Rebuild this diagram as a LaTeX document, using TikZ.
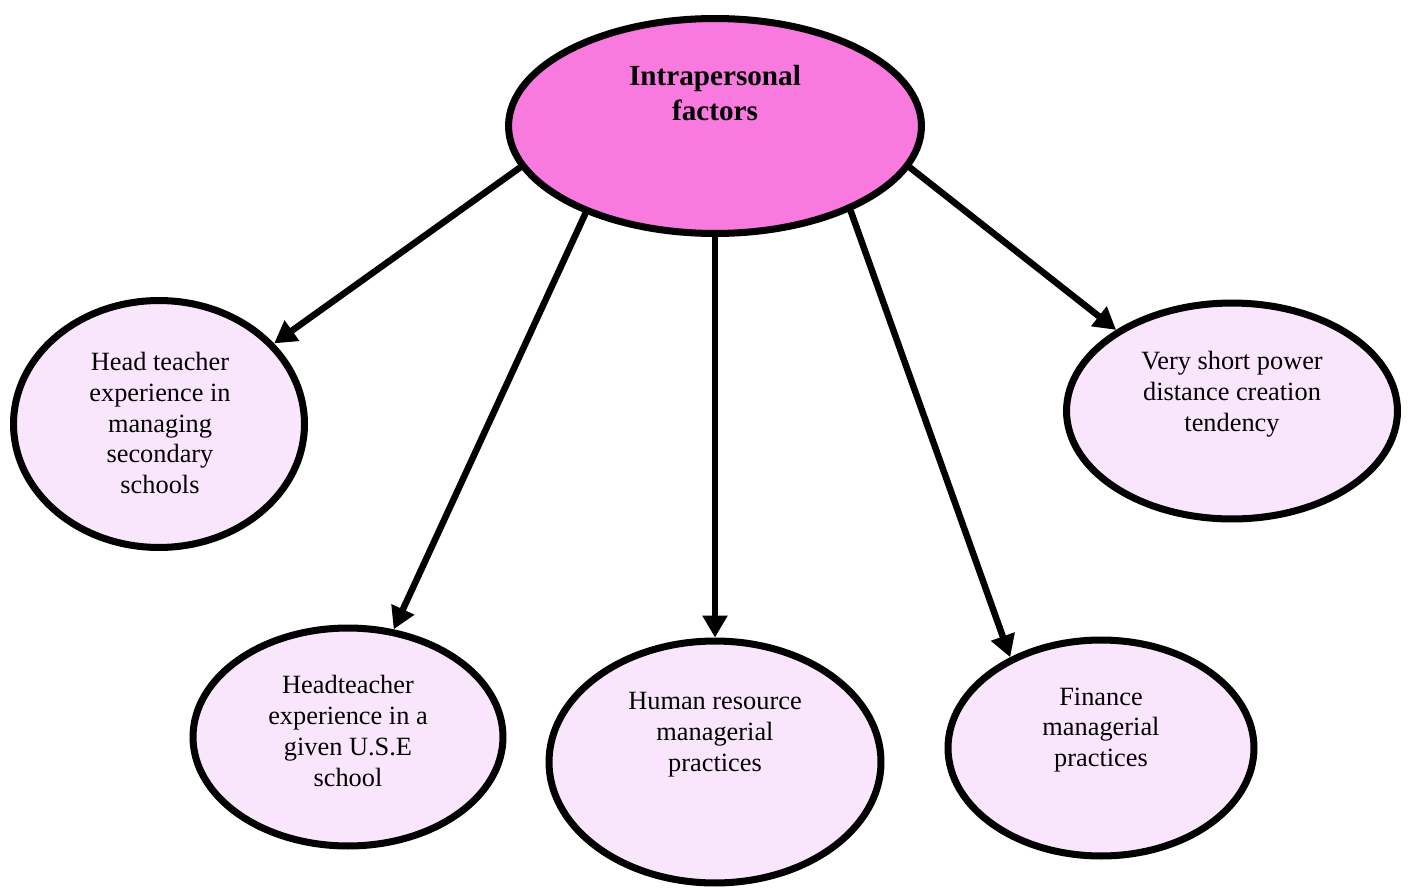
\documentclass[tikz,border=0pt]{standalone}
\usepackage{fontspec}
\setmainfont{Liberation Serif}
\usepackage{xcolor}
\usepackage{tikz}
\usetikzlibrary{shapes.geometric}
\usetikzlibrary{arrows.meta}

\definecolor{topfill}{HTML}{F87ADE}
\definecolor{subfill}{HTML}{FAE6FC}

\begin{document}
\begin{tikzpicture}[x=0.02cm, y=-0.02cm,
        bubble/.style={ellipse, draw=black, line width=4pt, fill=subfill, inner sep=0pt},
        txt/.style={align=center, inner sep=0pt, font=\fontsize{15}{17.6}\selectfont},
        link/.style={line width=3.7pt, -{Triangle[length=0.44cm, width=0.48cm]}}]
                \useasboundingbox (0, 0) rectangle (1413, 889);

                % main factor
                \node [bubble, fill=topfill, minimum width=8.26cm, minimum height=4.3cm] (intra) at (715, 126) {};
                \node [txt, font=\fontsize{16.6}{20}\selectfont\bfseries] (intratxt) at (715, 93) {Intrapersonal\\factors};

                % sub factors
                \node [bubble, minimum width=5.82cm, minimum height=4.94cm] (hd) at (159, 424) {};
                \node [bubble, minimum width=6.2cm, minimum height=4.36cm] (use) at (348, 737) {};
                \node [bubble, minimum width=6.64cm, minimum height=4.84cm] (hr) at (715, 762) {};
                \node [bubble, minimum width=6.12cm, minimum height=4.32cm] (fin) at (1101, 748) {};
                \node [bubble, minimum width=6.62cm, minimum height=4.32cm] (pd) at (1232, 411) {};

                \node [txt] (hdtxt) at (160, 423) {Head teacher\\experience in\\managing\\secondary\\schools};
                \node [txt] (usetxt) at (348, 731) {Headteacher\\experience in a\\given U.S.E\\school};
                \node [txt] (hrtxt) at (715, 735) {Human resource\\managerial\\practices};
                \node [txt] (fintxt) at (1101, 730) {Finance\\managerial\\practices};
                \node [txt] (pdtxt) at (1232, 394) {Very short power\\distance creation\\tendency};

                % arrows
                \draw [link] (intra.192.7) -- (hd.35.2);
                \draw [link] (intra.214.8) -- (use.67.6);
                \draw [link] (intra.270) -- (hr.90);
                \draw [link] (intra.328.3) -- (fin.135.6);
                \draw [link] (intra.348.9) -- (pd.145.5);
            \end{tikzpicture}
\end{document}
